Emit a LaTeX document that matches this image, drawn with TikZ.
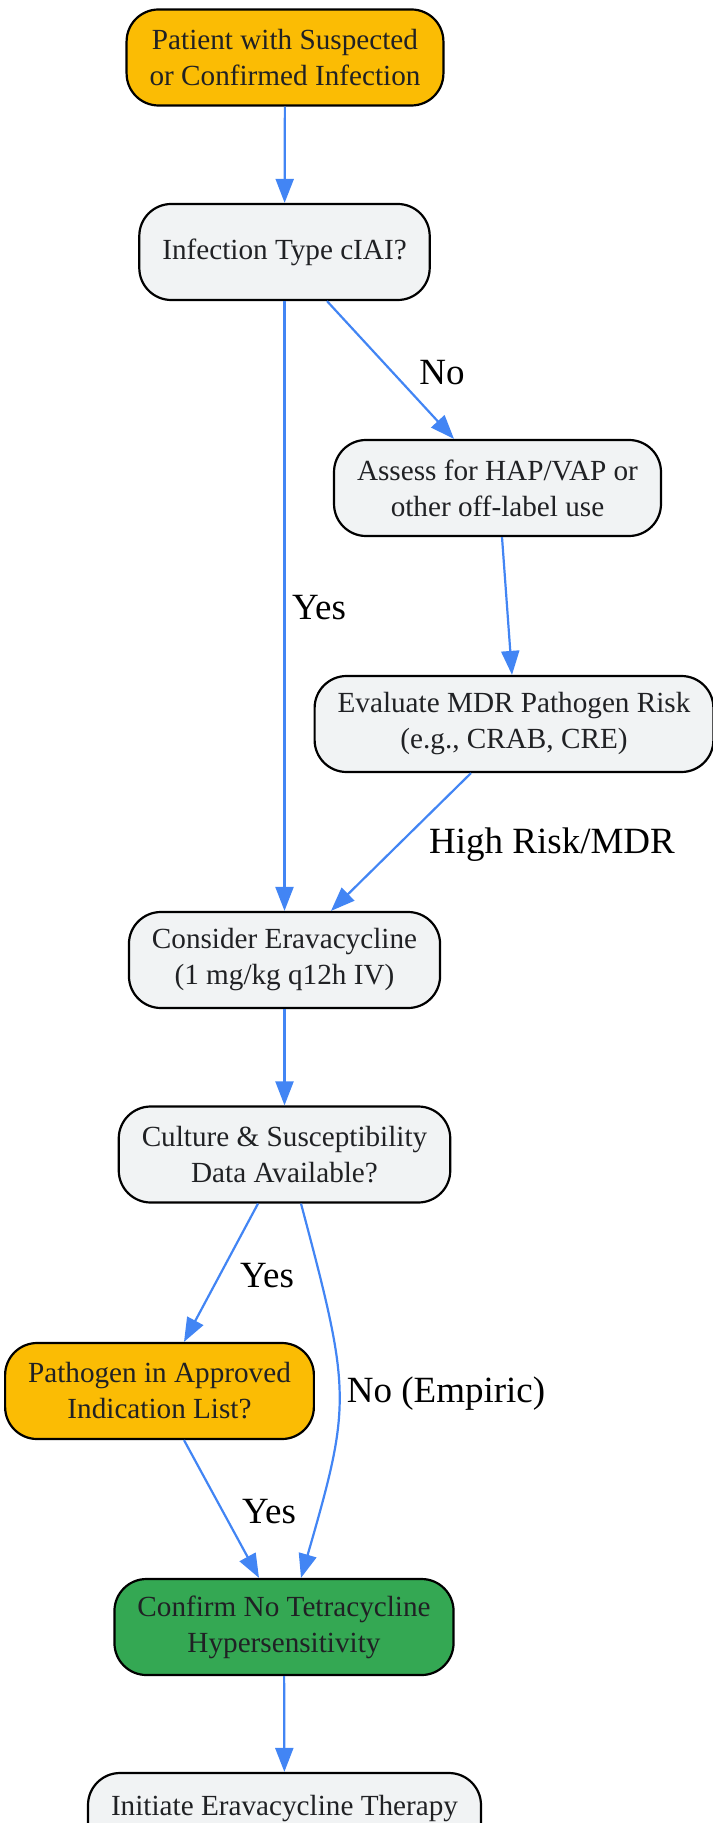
\documentclass[tikz,border=0pt]{standalone}
\usepackage{fontspec}
\setmainfont{Liberation Serif}
\usepackage{tikz}
\usetikzlibrary{arrows.meta}
\definecolor{gyellow}{HTML}{FBBC04}
\definecolor{ggray}{HTML}{F1F3F4}
\definecolor{ggreen}{HTML}{34A853}
\definecolor{gblue}{HTML}{4285F4}
\definecolor{gtext}{HTML}{202124}

\begin{document}
\begin{tikzpicture}[x=0.5pt, y=-0.5pt,
  box/.style={draw=black, line width=1.1pt, rounded corners=16pt, fill=ggray, text=gtext,
    align=center, minimum height=48pt, inner xsep=11.5pt, inner ysep=3pt,
    font=\fontsize{14.6pt}{18pt}\selectfont},
  flow/.style={gblue, line width=1.1pt, -{Triangle[length=12pt, width=9pt]}},
  lbl/.style={text=black, font=\fontsize{18.5pt}{22pt}\selectfont}]
\useasboundingbox (0,0) rectangle (712,1823);
\node[box, fill=gyellow] (patient) at (285,57.5) {Patient with Suspected\\or Confirmed Infection};
\node[box] (ciai) at (284.5,252) {Infection Type cIAI?};
\node[box] (hapvap) at (497.5,488) {Assess for HAP/VAP or\\other off-label use};
\node[box] (mdr) at (514,724) {Evaluate MDR Pathogen Risk\\(e.g., CRAB, CRE)};
\node[box] (consider) at (284.5,960) {Consider Eravacycline\\(1 mg/kg q12h IV)};
\node[box] (culture) at (284.5,1154.5) {Culture \& Susceptibility\\Data Available?};
\node[box, fill=gyellow] (approved) at (159.5,1391) {Pathogen in Approved\\Indication List?};
\node[box, fill=ggreen] (hyper) at (284,1627) {Confirm No Tetracycline\\Hypersensitivity};
\node[box, text height=11pt, text depth=17pt] (initiate) at (284.5,1821) {Initiate Eravacycline Therapy};
\draw[flow] (patient) -- (ciai);
\draw[flow] ([xshift=21.25pt]ciai.south) -- ([xshift=-21.75pt]hapvap.north);
\draw[flow] (ciai) -- (consider);
\draw[flow] ([xshift=2.25pt]hapvap.south) -- ([xshift=-1pt]mdr.north);
\draw[flow] ([xshift=-21.5pt]mdr.south) -- ([xshift=23.25pt]consider.north);
\draw[flow] (consider) -- (culture);
\draw[flow] ([xshift=-13.25pt]culture.south) -- ([xshift=12.25pt]approved.north);
\draw[flow] ([xshift=8.25pt]culture.south) .. controls (351.5,1393) and (351.5,1403) .. ([xshift=8.5pt]hyper.north);
\draw[flow] ([xshift=12.25pt]approved.south) -- ([xshift=-12.5pt]hyper.north);
\draw[flow] (hyper) -- (initiate);
\node[lbl] (lno) at (442,373) {No};
\node[lbl] (lyes1) at (319,608) {Yes};
\node[lbl] (lhigh) at (552,845) {High Risk/MDR};
\node[lbl] (lyes2) at (267,1276) {Yes};
\node[lbl] (lempiric) at (446,1394) {No (Empiric)};
\node[lbl] (lyes3) at (269,1512) {Yes};
\end{tikzpicture}
\end{document}
